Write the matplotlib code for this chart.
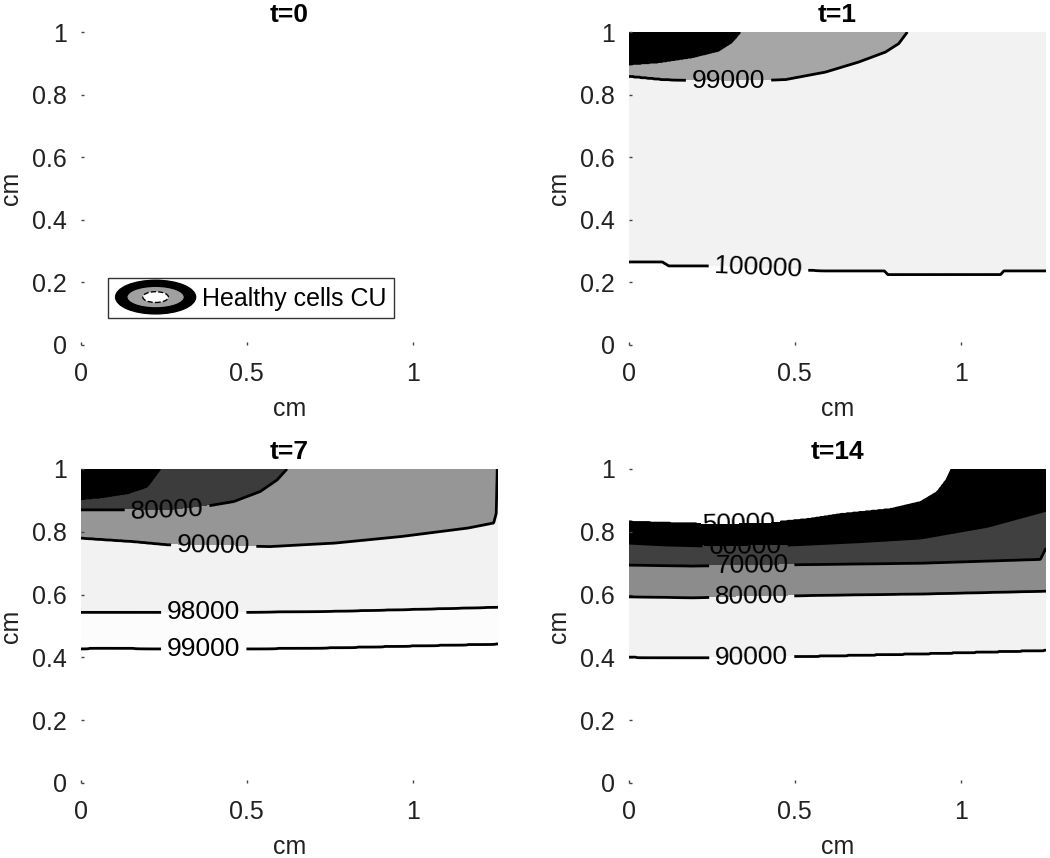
import numpy as np
import matplotlib
matplotlib.use('Agg')
import matplotlib.pyplot as plt
from matplotlib.patches import Ellipse, Patch
from matplotlib.legend_handler import HandlerBase

plt.rcParams['font.family'] = ['Liberation Sans', 'DejaVu Sans']

X_MAX = 1.257
TITLES = ['t=0', 't=1', 't=7', 't=14']
X_TICKS = [0, 0.5, 1]
Y_TICKS = [0, 0.2, 0.4, 0.6, 0.8, 1]

# t=1: contour lines (x along the line, y of the line)
t1_levels = [98000, 99000, 100000]
t1_x98000 = [0, 0.088, 0.189, 0.269, 0.309, 0.335, 0.5, 0.9, 1.257]
t1_y98000 = [0.897, 0.904, 0.920, 0.941, 0.968, 1.0, 1.2, 1.5, 1.7]
t1_x99000 = [0, 0.108, 0.3, 0.471, 0.592, 0.692, 0.773, 0.813, 0.839, 1.0, 1.257]
t1_y99000 = [0.859, 0.848, 0.843, 0.848, 0.872, 0.904, 0.936, 0.963, 1.0, 1.1, 1.2]
t1_x100000 = [0, 0.10, 0.12, 0.23, 0.59, 0.77, 0.78, 1.12, 1.13, 1.257]
t1_y100000 = [0.266, 0.266, 0.253, 0.253, 0.237, 0.237, 0.2255, 0.2255, 0.237, 0.237]
t1_labels = [99000, 100000]
t1_label_at = [(0.30, 0.84), (0.39, 0.24)]
t1_colors = ['black', '#a6a6a6', '#f2f2f2', 'white']

# t=7
t7_levels = [70000, 80000, 90000, 98000, 99000]
t7_x70000 = [0, 0.057, 0.138, 0.198, 0.238, 0.3, 0.6, 1.257]
t7_y70000 = [0.905, 0.910, 0.923, 0.944, 1.0, 1.1, 1.3, 1.6]
t7_x80000 = [0, 0.14, 0.27, 0.359, 0.46, 0.54, 0.591, 0.621, 0.7, 1.257]
t7_y80000 = [0.870, 0.870, 0.868, 0.878, 0.896, 0.928, 0.965, 1.0, 1.07, 1.25]
t7_x90000 = [0, 0.158, 0.259, 0.57, 0.765, 0.966, 1.167, 1.244, 1.252, 1.257]
t7_y90000 = [0.780, 0.769, 0.759, 0.753, 0.764, 0.785, 0.812, 0.828, 0.86, 1.15]
t7_x98000 = [0, 0.5, 0.76, 0.96, 1.257]
t7_y98000 = [0.544, 0.544, 0.547, 0.552, 0.560]
t7_x99000 = [0, 0.06, 0.23, 0.53, 0.76, 0.96, 1.257]
t7_y99000 = [0.428, 0.430, 0.428, 0.428, 0.431, 0.436, 0.443]
t7_labels = [80000, 90000, 98000, 99000]
t7_label_at = [(0.26, 0.868), (0.40, 0.753), (0.37, 0.544), (0.37, 0.428)]
t7_colors = ['black', '#3c3c3c', '#969696', '#f2f2f2', '#fcfcfc', 'white']

# t=14 (values below 50000 are left unfilled)
t14_levels = [50000, 60000, 70000, 80000, 90000]
t14_x50000 = [0, 0.108, 0.29, 0.44, 0.54, 0.64, 0.79, 0.879, 0.93, 0.96, 0.975, 1.05, 1.257]
t14_y50000 = [0.830, 0.826, 0.822, 0.828, 0.838, 0.854, 0.870, 0.892, 0.924, 0.966, 1.0, 1.1, 1.3]
t14_x60000 = [0, 0.108, 0.29, 0.49, 0.69, 0.879, 1.08, 1.257]
t14_y60000 = [0.764, 0.758, 0.753, 0.758, 0.768, 0.780, 0.817, 0.868]
t14_x70000 = [0, 0.19, 0.49, 0.879, 1.24, 1.257]
t14_y70000 = [0.694, 0.691, 0.695, 0.700, 0.712, 0.748]
t14_x80000 = [0, 0.19, 0.59, 0.879, 1.257]
t14_y80000 = [0.593, 0.590, 0.598, 0.602, 0.611]
t14_x90000 = [0, 0.21, 0.54, 0.879, 1.257]
t14_y90000 = [0.401, 0.399, 0.404, 0.412, 0.423]
t14_labels = [50000, 60000, 70000, 80000, 90000]
t14_label_at = [(0.33, 0.826), (0.35, 0.755), (0.37, 0.693), (0.37, 0.592), (0.37, 0.401)]
t14_colors = ['black', '#404040', '#8c8c8c', '#f2f2f2', 'white']

LEGEND_LABEL = 'Healthy cells CU'


def make_field(lines, levels, xg, yg):
    # each level line gives the y where the field crosses that level
    bounds = np.array([np.interp(xg, xs, ys) for xs, ys in lines])
    lv = np.array(levels, float)
    step = 2000.0
    z = np.empty((len(yg), len(xg)))
    for j in range(len(xg)):
        yy = np.concatenate([[-5.0], bounds[::-1, j], [5.0]])
        vv = np.concatenate([[lv[-1] + step], lv[::-1], [lv[0] - step]])
        z[:, j] = np.interp(yg, yy, vv)
    return z


class ContourIcon(HandlerBase):
    def create_artists(self, legend, orig_handle, xdescent, ydescent,
                       width, height, fontsize, trans):
        cx = width / 2 - xdescent
        cy = height / 2 - ydescent
        out = []
        for fw, fh, fc, ls in [(1.0, 1.4, 'black', '-'), (0.72, 0.9, '#a0a0a0', '-'),
                               (0.32, 0.45, 'white', '--')]:
            e = Ellipse((cx, cy), width * fw, height * fh, facecolor=fc,
                        edgecolor='black', linewidth=1, linestyle=ls, transform=trans)
            out.append(e)
        return out


fig = plt.figure(figsize=(10.5, 8.58), dpi=100)
ax_pos = [
    [81 / 1050, 1 - 345 / 858, 417 / 1050, 313 / 858],
    [629 / 1050, 1 - 345 / 858, 417 / 1050, 313 / 858],
    [81 / 1050, 1 - 783 / 858, 417 / 1050, 314 / 858],
    [629 / 1050, 1 - 783 / 858, 417 / 1050, 314 / 858],
]

xg = np.linspace(0, X_MAX, 700)
yg = np.linspace(0, 1, 500)

panels = [
    None,
    (t1_levels, [(t1_x98000, t1_y98000), (t1_x99000, t1_y99000), (t1_x100000, t1_y100000)],
     t1_labels, t1_label_at, t1_colors, True),
    (t7_levels, [(t7_x70000, t7_y70000), (t7_x80000, t7_y80000), (t7_x90000, t7_y90000),
                 (t7_x98000, t7_y98000), (t7_x99000, t7_y99000)],
     t7_labels, t7_label_at, t7_colors, True),
    (t14_levels, [(t14_x50000, t14_y50000), (t14_x60000, t14_y60000), (t14_x70000, t14_y70000),
                  (t14_x80000, t14_y80000), (t14_x90000, t14_y90000)],
     t14_labels, t14_label_at, t14_colors, False),
]

for i, pos in enumerate(ax_pos):
    ax = fig.add_axes(pos)
    p = panels[i]
    if p is not None:
        levels, lines, lab_lv, lab_at, colors, fill_low = p
        z = make_field(lines, levels, xg, yg)
        top = levels[-1] + 5000
        if fill_low:
            fl = [levels[0] - 5000] + levels + [top]
        else:
            fl = levels + [top]
        ax.contourf(xg, yg, z, levels=fl, colors=colors)
        plain = [lv for lv in levels if lv not in lab_lv]
        if plain:
            ax.contour(xg, yg, z, levels=plain, colors='black', linewidths=2.0)
        cs = ax.contour(xg, yg, z, levels=lab_lv, colors='black', linewidths=2.0)
        ax.clabel(cs, manual=lab_at, inline=True, fmt='%d',
                  fontsize=19, inline_spacing=6, colors='black')
    ax.set_xlim(0, X_MAX)
    ax.set_ylim(0, 1)
    ax.set_xticks(X_TICKS)
    ax.set_xticklabels(['0', '0.5', '1'])
    ax.set_yticks(Y_TICKS)
    ax.set_yticklabels(['0', '0.2', '0.4', '0.6', '0.8', '1'])
    for s in ax.spines.values():
        s.set_visible(False)
    ax.tick_params(axis='both', direction='in', length=2, width=1, color='#444444',
                   labelsize=18, labelcolor='#222222')
    ax.tick_params(axis='y', pad=10)
    ax.tick_params(axis='x', pad=12)
    ax.set_xlabel('cm', fontsize=18, color='#222222', labelpad=8)
    ax.set_ylabel('cm', fontsize=18, color='#222222', labelpad=7)
    ax.set_title(TITLES[i], fontsize=19, fontweight='bold', pad=7)

    if i == 0:
        leg = ax.legend([Patch()], [LEGEND_LABEL], handler_map={Patch: ContourIcon()},
                        loc='lower left', bbox_to_anchor=(0.065, 0.086), borderaxespad=0,
                        fontsize=18, handlelength=3.2, handleheight=1.1, handletextpad=0.25,
                        borderpad=0.3, fancybox=False, framealpha=1)
        leg.get_frame().set_edgecolor('#333333')
        leg.get_frame().set_linewidth(1)

fig.savefig('out.png', dpi=100)
